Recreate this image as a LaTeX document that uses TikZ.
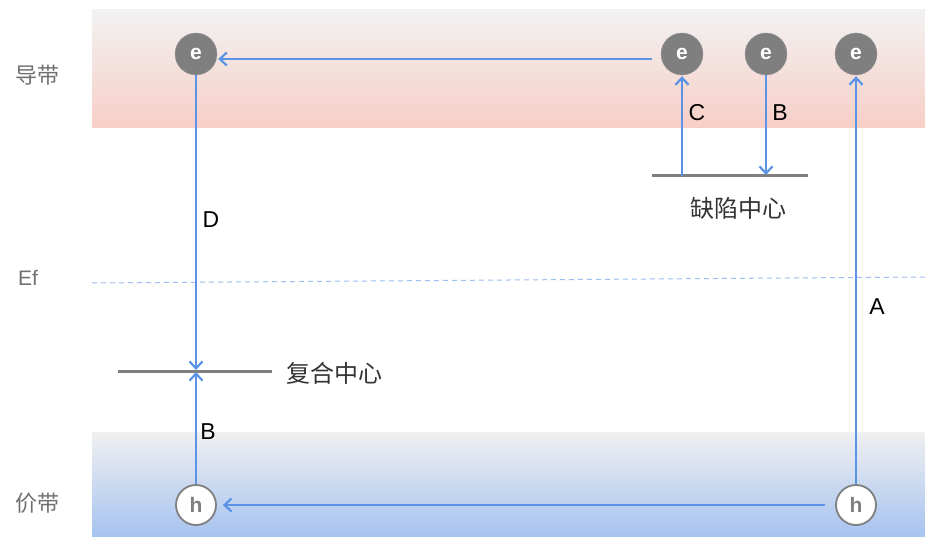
\documentclass[tikz,border=0pt]{standalone}
\usepackage{fontspec}
\setmainfont{Liberation Sans}
\newfontfamily\cjk{Noto Sans CJK SC}
\usetikzlibrary{arrows.meta}
\definecolor{arrblue}{HTML}{5B93E6}
\definecolor{lvgray}{HTML}{7F7F7F}
\definecolor{cbtop}{HTML}{F2F2F2}
\definecolor{cbbot}{HTML}{F7CEC6}
\definecolor{vbtop}{HTML}{F0F0F0}
\definecolor{vbbot}{HTML}{A6C3F0}
\definecolor{lblgray}{HTML}{707070}
\definecolor{txtdark}{HTML}{333333}
\tikzset{
  ecirc/.style={circle,fill=lvgray,draw=lvgray!80,minimum size=42pt,inner sep=0pt,text=white,font=\fontsize{21}{21}\selectfont\bfseries},
  hcirc/.style={circle,fill=white,draw=lvgray,line width=1.8pt,minimum size=40pt,inner sep=0pt,text=lvgray,font=\fontsize{21}{21}\selectfont\bfseries},
  arr/.style={draw=arrblue,line width=2.4pt,-{Straight Barb[length=7pt,width=13pt,line width=2.2pt]}},
  level/.style={draw=lvgray,line width=3pt},
  letter/.style={font=\fontsize{23}{23}\selectfont,text=black},
  cntxt/.style={font=\cjk\fontsize{24}{24}\selectfont,text=txtdark},
  sidelbl/.style={font=\cjk\fontsize{22}{22}\selectfont,text=lblgray}
}
\begin{document}
\begin{tikzpicture}[x=1pt,y=-1pt]
\useasboundingbox (0,0) rectangle (925,537);
\fill[white] (0,0) rectangle (925,537);
% bands
\shade[top color=cbtop,bottom color=cbbot] (92,10) rectangle (925,128);
\shade[top color=vbtop,bottom color=vbbot] (92,432) rectangle (925,537);
% Fermi level
\coordinate (efL) at (92,283);
\coordinate (efR) at (925,277);
\draw[arrblue!60,line width=1pt,dash pattern=on 5pt off 4pt] (efL) -- (efR);
% side labels
\node[sidelbl] (cb) at (37,75) {导带};
\node[sidelbl,font=\fontsize{21}{21}\selectfont] (ef) at (28,278) {Ef};
\node[sidelbl] (vb) at (37,503) {价带};
% electrons
\node[ecirc] (e1) at (196,54) {e};
\node[ecirc] (e2) at (682,54) {e};
\node[ecirc] (e3) at (766,54) {e};
\node[ecirc] (e4) at (856,54) {e};
% holes
\node[hcirc] (h1) at (196,505) {h};
\node[hcirc] (h2) at (856,505) {h};
% recombination center
\coordinate (rcL) at (118,371);
\coordinate (rcR) at (272,371);
\coordinate (rc) at (196,371);
\draw[level] (rcL) -- (rcR);
\node[cntxt,anchor=west] (rclbl) at (283,373) {复合中心};
% defect center
\coordinate (dcL) at (652,176);
\coordinate (dcR) at (808,176);
\coordinate (dcC) at (682,176);
\coordinate (dcB) at (766,176);
\draw[level] (dcL) -- (dcR);
\node[cntxt] (dclbl) at (738,208) {缺陷中心};
% transitions
\draw[arr] ([xshift=-9pt,yshift=-5pt]e2.west) -- ([xshift=1pt,yshift=-5pt]e1.east);
\draw[arr] ([xshift=-10pt]h2.west) -- ([xshift=6pt]h1.east);
\draw[arr] (e1.south) -- ([yshift=1pt]rc);
\draw[arr] (h1.north) -- ([yshift=-1pt]rc);
\draw[arr] (dcC) -- ([yshift=-1pt]e2.south);
\draw[arr] (e3.south) -- ([yshift=1pt]dcB);
\draw[arr] (h2.north) -- ([yshift=-1pt]e4.south);
% labels
\node[letter] (lD) at (211,220) {D};
\node[letter] (lB1) at (208,432) {B};
\node[letter] (lC) at (697,113) {C};
\node[letter] (lB2) at (780,113) {B};
\node[letter] (lA) at (877,307) {A};
\end{tikzpicture}
\end{document}
